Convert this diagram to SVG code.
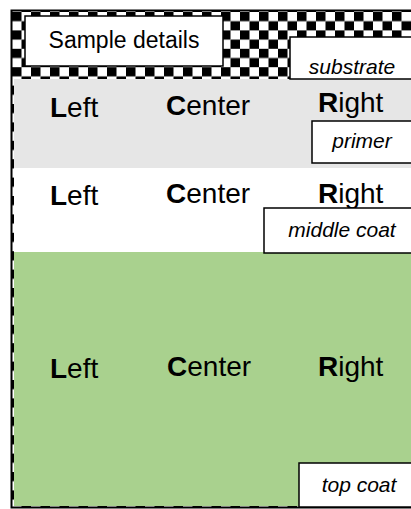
<svg xmlns="http://www.w3.org/2000/svg" width="411" height="509" viewBox="0 0 411 509">
<style>
.lbl{font-family:"Liberation Sans",Arial,sans-serif;font-size:28px;fill:#000}
.lbl tspan.b{font-weight:bold}
.tag{font-family:"Liberation Sans",Arial,sans-serif;font-size:21px;font-style:italic;fill:#000;text-anchor:middle}
.box{fill:#fff;stroke:#000;stroke-width:1.5}
</style>
<defs>
<pattern id="checker" x="12" y="12" width="19" height="18.4" patternUnits="userSpaceOnUse">
<rect width="19" height="18.4" fill="#fff"/>
<rect width="9.5" height="9.2" fill="#000"/>
<rect x="9.5" y="9.2" width="9.5" height="9.2" fill="#000"/>
</pattern>
</defs>
<g id="substrate">
<rect x="11.5" y="10.5" width="420" height="497" fill="url(#checker)" stroke="#000" stroke-width="2"/>
</g>
<g id="primer">
<rect x="14" y="79" width="400" height="89" fill="#e6e6e6"/>
<text class="lbl" x="50" y="117"><tspan class="b">L</tspan>eft</text>
<text class="lbl" x="166" y="115"><tspan class="b">C</tspan>enter</text>
<text class="lbl" x="318" y="112"><tspan class="b">R</tspan>ight</text>
</g>
<g id="middle-coat">
<rect x="14" y="168" width="400" height="84" fill="#fff"/>
<text class="lbl" x="50" y="205"><tspan class="b">L</tspan>eft</text>
<text class="lbl" x="166" y="203"><tspan class="b">C</tspan>enter</text>
<text class="lbl" x="318" y="203"><tspan class="b">R</tspan>ight</text>
</g>
<g id="top-coat">
<rect x="14" y="252" width="400" height="254" fill="#a9d18e"/>
<text class="lbl" x="50" y="378"><tspan class="b">L</tspan>eft</text>
<text class="lbl" x="167" y="376"><tspan class="b">C</tspan>enter</text>
<text class="lbl" x="318" y="376"><tspan class="b">R</tspan>ight</text>
</g>
<g id="sample-details">
<rect class="box" x="25" y="16" width="198" height="50"/>
<text x="124" y="48" font-family="Liberation Sans, Arial, sans-serif" font-size="23" text-anchor="middle">Sample details</text>
</g>
<g id="substrate-label">
<rect class="box" x="290" y="37" width="130" height="42"/>
<text class="tag" x="352" y="74">substrate</text>
</g>
<g id="primer-label">
<rect class="box" x="312" y="121" width="110" height="42"/>
<text class="tag" x="362" y="148">primer</text>
</g>
<g id="middle-coat-label">
<rect class="box" x="264" y="208" width="160" height="45"/>
<text class="tag" x="342" y="237">middle coat</text>
</g>
<g id="top-coat-label">
<rect class="box" x="299" y="463" width="120" height="44"/>
<text class="tag" x="359" y="492">top coat</text>
</g>
</svg>
